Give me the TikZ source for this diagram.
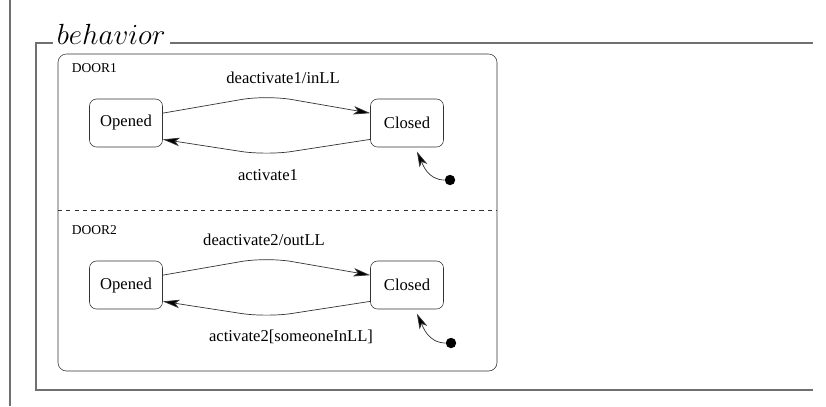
\documentclass[tikz,border=0pt]{standalone}
\usepackage{fontspec}
\setmainfont{Liberation Serif}
\usetikzlibrary{positioning,arrows.meta,calc}
\definecolor{FrameGray}{HTML}{707070}
\definecolor{LineGray}{HTML}{333333}
\tikzstyle{state} = [draw=LineGray,rounded corners=5pt,minimum width=1.825cm,minimum height=1.2cm,inner sep=0pt,font=\fontsize{11.8}{14}\selectfont]
\tikzstyle{trans} = [draw=LineGray,line width=0.5pt,-{Stealth[length=12pt,width=6pt,inset=3pt,fill=black]},rounded corners=18pt]
\tikzstyle{initarrow} = [draw=LineGray,line width=0.5pt,-{Stealth[length=11pt,width=6pt,inset=3pt,fill=black]},shorten >=0.12cm]
\tikzstyle{tlabel} = [font=\fontsize{11.8}{14}\selectfont]
\tikzstyle{region} = [font=\fontsize{9.6}{11}\selectfont,anchor=west,inner sep=0pt]
\tikzstyle{initial} = [fill,shape=circle,minimum size=0.26cm,inner sep=0pt]
\tikzstyle{frame} = [draw=FrameGray,line width=1.4pt]

\begin{document}
\begin{tikzpicture}[node distance=7.025cm]
	\useasboundingbox (0,0) rectangle (20.65,-10.15);
	
	% frame of the behavior part
	\draw[frame] (0.25,0) -- (0.25,-10.15);
	\draw[frame] (20.325,-1.075) -- (0.9,-1.075) -- (0.9,-9.75) -- (20.325,-9.75);
	\node[fill=white,inner sep=3pt,anchor=base] (title) at (2.78,-1.1) {\fontsize{19.5}{22}\selectfont$behavior$};
	
	% composite state with two regions
	\node[draw=LineGray,rounded corners=6pt,minimum width=10.975cm,minimum height=7.925cm] (doors) at (6.9375,-5.3125) {};
	\draw[LineGray,dashed] (doors.west |- 0,-5.25) -- (doors.east |- 0,-5.25);
	\node[region] (r1) at (1.79,-1.7) {DOOR1};
	\node[region] (r2) at (1.79,-5.75) {DOOR2};
	
	\node[state] (open1) at (3.15,-3.075) {Opened};
	\node[state,right of=open1] (closed1) {Closed};
	\node[state,below of=open1,node distance=4.05cm] (open2) {Opened};
	\node[state,right of=open2] (closed2) {Closed};
	
	\node[initial] (init1) at ($(closed1)+(1.075,-1.425)$) {};
	\node[initial] (init2) at ($(closed2)+(1.1,-1.45)$) {};
	
	\draw[trans] (open1.15) -- ($(open1.15)!.5!(closed1.165)+(0,0.45)$) -- (closed1.165);
	\draw[trans] (closed1.-156) -- ($(closed1.-156)!.5!(open1.-24)+(0,-0.4)$) -- (open1.-24);
	\draw[trans] (open2.15) -- ($(open2.15)!.5!(closed2.165)+(0,0.45)$) -- (closed2.165);
	\draw[trans] (closed2.-156) -- ($(closed2.-156)!.5!(open2.-24)+(0,-0.4)$) -- (open2.-24);
	
	\draw[initarrow] (init1) to[out=180,in=-65] (closed1.-72);
	\draw[initarrow] (init2) to[out=180,in=-65] (closed2.-72);
	
	\node[tlabel] (l1) at (7.075,-1.95) {deactivate1/inLL};
	\node[tlabel] (l2) at (6.7,-4.375) {activate1};
	\node[tlabel] (l3) at (6.6,-6.0) {deactivate2/outLL};
	\node[tlabel] (l4) at (7.275,-8.425) {activate2[someoneInLL]};
\end{tikzpicture}
\end{document}
